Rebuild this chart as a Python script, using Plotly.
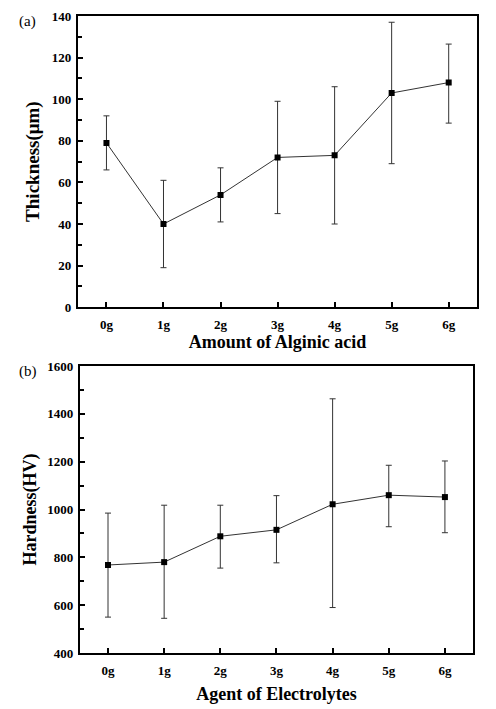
import plotly.graph_objects as go

# panel (a)
alginic = ["0g", "1g", "2g", "3g", "4g", "5g", "6g"]
thickness = [79, 40, 54, 72, 73, 103, 108]
thickness_hi = [92, 61, 67, 99, 106, 137, 126.5]
thickness_lo = [66, 19, 41, 45, 40, 69, 88.5]

# panel (b)
electrolytes = ["0g", "1g", "2g", "3g", "4g", "5g", "6g"]
hardness = [768, 780, 888, 915, 1022, 1060, 1052]
hardness_hi = [985, 1018, 1018, 1058, 1463, 1185, 1203]
hardness_lo = [550, 545, 755, 777, 590, 928, 903]

FONT = "Liberation Serif, Times New Roman, DejaVu Serif, serif"


def err(vals, hi, lo):
    return dict(type="data", symmetric=False,
                array=[h - v for h, v in zip(hi, vals)],
                arrayminus=[v - l for v, l in zip(vals, lo)],
                color="#333333", thickness=1, width=3)


fig = go.Figure()
fig.add_trace(go.Scatter(
    x=alginic, y=thickness, mode="lines+markers",
    line=dict(color="#333333", width=1),
    marker=dict(symbol="square", size=6, color="black"),
    error_y=err(thickness, thickness_hi, thickness_lo),
    xaxis="x", yaxis="y", showlegend=False,
))
fig.add_trace(go.Scatter(
    x=electrolytes, y=hardness, mode="lines+markers",
    line=dict(color="#333333", width=1),
    marker=dict(symbol="square", size=6, color="black"),
    error_y=err(hardness, hardness_hi, hardness_lo),
    xaxis="x2", yaxis="y2", showlegend=False,
))

tickfont = dict(family=FONT, size=13, color="black")
titlefont = dict(family=FONT, size=18, color="black")
axis_common = dict(showline=True, linecolor="black", linewidth=2, mirror=True,
                   showgrid=False, zeroline=False, ticks="inside", ticklen=5,
                   tickwidth=2, tickcolor="black", tickfont=tickfont,
                   automargin=False, tickprefix="<b>", ticksuffix="</b>")

# the page body has an 8px margin, so domains are shifted up/left by 8px
fig.update_layout(
    width=496, height=709,
    margin=dict(l=0, r=0, t=0, b=0),
    paper_bgcolor="white", plot_bgcolor="white",
    font=dict(family=FONT, color="black"),
    xaxis=dict(domain=[0.141, 0.946], anchor="y", range=[-0.5, 6.5], ticklabelstandoff=4,
               title=dict(text="<b>Amount of Alginic acid</b>", font=titlefont, standoff=4),
               **axis_common),
    yaxis=dict(domain=[0.578, 0.9887], anchor="x", range=[0, 140], dtick=20, ticklabelstandoff=2,
               minor=dict(ticks="inside", dtick=10, ticklen=4, tickwidth=2, tickcolor="black"),
               title=dict(text="<b>Thickness(μm)</b>", font=dict(family=FONT, size=19, color="black"),
                          standoff=7),
               **axis_common),
    xaxis2=dict(domain=[0.145, 0.9375], anchor="y2", range=[-0.5, 6.5], ticklabelstandoff=4,
                title=dict(text="<b>Agent of Electrolytes</b>", font=titlefont, standoff=11),
                **axis_common),
    yaxis2=dict(domain=[0.0903, 0.495], anchor="x2", range=[400, 1600], dtick=200, ticklabelstandoff=2,
                minor=dict(ticks="inside", dtick=100, ticklen=4, tickwidth=2, tickcolor="black"),
                title=dict(text="<b>Hardness(HV)</b>", font=titlefont, standoff=6),
                **axis_common),
    annotations=[
        dict(text="(a)", x=0.018, y=0.996, xref="paper", yref="paper",
             xanchor="left", yanchor="top", showarrow=False,
             font=dict(family=FONT, size=15, color="black")),
        dict(text="(b)", x=0.018, y=0.502, xref="paper", yref="paper",
             xanchor="left", yanchor="top", showarrow=False,
             font=dict(family=FONT, size=15, color="black")),
    ],
)

fig.write_html("out.html")
